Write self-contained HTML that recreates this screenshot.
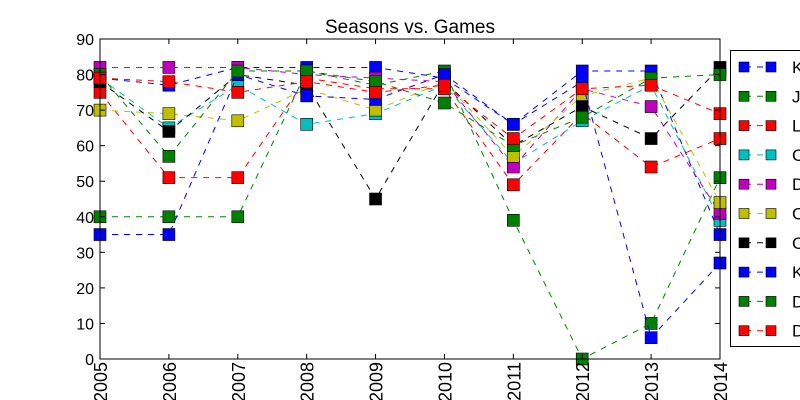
<!DOCTYPE html>
<html><head><meta charset="utf-8"><style>
body{margin:0;background:#fff;}
svg{display:block;font-family:"Liberation Sans",sans-serif;}
</style></head><body>
<svg id="chart" width="800" height="400">
<rect width="800" height="400" fill="#fff"/>
<text x="410" y="33" font-size="19" text-anchor="middle">Seasons vs. Games</text>
<g id="grid"></g>
<g id="series"></g>
<rect x="100" y="39" width="620" height="320" fill="none" stroke="#000" stroke-width="1"/>
<g id="axes"></g>
<g id="legend"></g>
</svg>
<script>
const years = [2005,2006,2007,2008,2009,2010,2011,2012,2013,2014];
const yTicks = [0,10,20,30,40,50,60,70,80,90];
const seriesNames = ["K","J","L","C","D","C","C","K","D","D"];
const seriesColors = ["#0000ff","#008000","#ff0000","#00bfbf","#bf00bf","#bfbf00","#000000","#0000ff","#008000","#ff0000"];
const s0 = [79,77,82,82,82,79,66,81,81,35];
const s1 = [40,40,40,81,77,81,39,0,10,51];
const s2 = [75,51,51,79,76,76,49,69,54,62];
const s3 = [79,65,77,66,69,77,55,67,77,39];
const s4 = [82,82,82,80,79,78,54,76,71,41];
const s5 = [70,69,67,76,70,78,57,74,79,44];
const s6 = [78,64,80,77,45,78,60,71,62,82];
const s7 = [35,35,80,74,73,80,66,78,6,27];
const s8 = [80,57,81,81,78,72,60,68,79,80];
const s9 = [79,78,75,78,75,77,62,76,77,69];
const allSeries = [s0,s1,s2,s3,s4,s5,s6,s7,s8,s9];

const NS="http://www.w3.org/2000/svg";
const X0=100,X1=720,Y0=359,Y1=39;
function xs(v){return X0+(v-years[0])/(years[years.length-1]-years[0])*(X1-X0);}
function ys(v){return Y0-(v-0)/90*(Y0-Y1);}
function mk(tag,attrs,parent){const e=document.createElementNS(NS,tag);for(const k in attrs)e.setAttribute(k,attrs[k]);parent.appendChild(e);return e;}

const axes=document.getElementById('axes');
yTicks.forEach(t=>{
  const y=ys(t);
  const l1=mk('line',{x1:X0,x2:X0+5,y1:y,y2:y,stroke:'#000'},axes);
  
  
  const l2=mk('line',{x1:X1-5,x2:X1,y1:y,y2:y,stroke:'#000'},axes);
  
  
  const tx=mk('text',{x:X0-6,y:y+6,'font-size':16,'text-anchor':'end'},axes);
  tx.textContent=t;
  
  
});
years.forEach(yr=>{
  const x=xs(yr);
  const l1=mk('line',{x1:x,x2:x,y1:Y0,y2:Y0-5,stroke:'#000'},axes);
  
  
  const l2=mk('line',{x1:x,x2:x,y1:Y1,y2:Y1+5,stroke:'#000'},axes);
  
  
  const tx=mk('text',{x:0,y:0,'font-size':18,'text-anchor':'end',transform:`translate(${x+7},${Y0+3}) rotate(-90)`},axes);
  tx.textContent=yr;
  
  
});

const sg=document.getElementById('series');
allSeries.forEach((vals,i)=>{
  const g=mk('g',{},sg);
  
  
  const pts=vals.map((v,j)=>xs(years[j])+','+ys(v)).join(' ');
  const pl=mk('polyline',{points:pts,fill:'none',stroke:seriesColors[i],'stroke-width':1,'stroke-dasharray':'6,6'},g);
  
  
  vals.forEach((v,j)=>{
    const r=mk('rect',{x:xs(years[j])-6,y:ys(v)-6,width:12,height:12,fill:seriesColors[i],stroke:'#000','stroke-width':0.6},g);
    
    
  });
});

const lg=document.getElementById('legend');
const box=mk('rect',{x:730.5,y:50.5,width:80,height:296,fill:'#fff',stroke:'#000'},lg);


seriesNames.forEach((n,i)=>{
  const y=67+i*29.3;
  const g=mk('g',{},lg);
  
  
  mk('line',{x1:745,x2:771,y1:y,y2:y,stroke:seriesColors[i],'stroke-dasharray':'6,6'},g);
  mk('rect',{x:739,y:y-5,width:10,height:10,fill:seriesColors[i],stroke:'#000','stroke-width':0.6},g);
  mk('rect',{x:766,y:y-5,width:10,height:10,fill:seriesColors[i],stroke:'#000','stroke-width':0.6},g);
  const t=mk('text',{x:792,y:y+6,'font-size':17},g);
  t.textContent=n;
});
</script>
</body></html>
